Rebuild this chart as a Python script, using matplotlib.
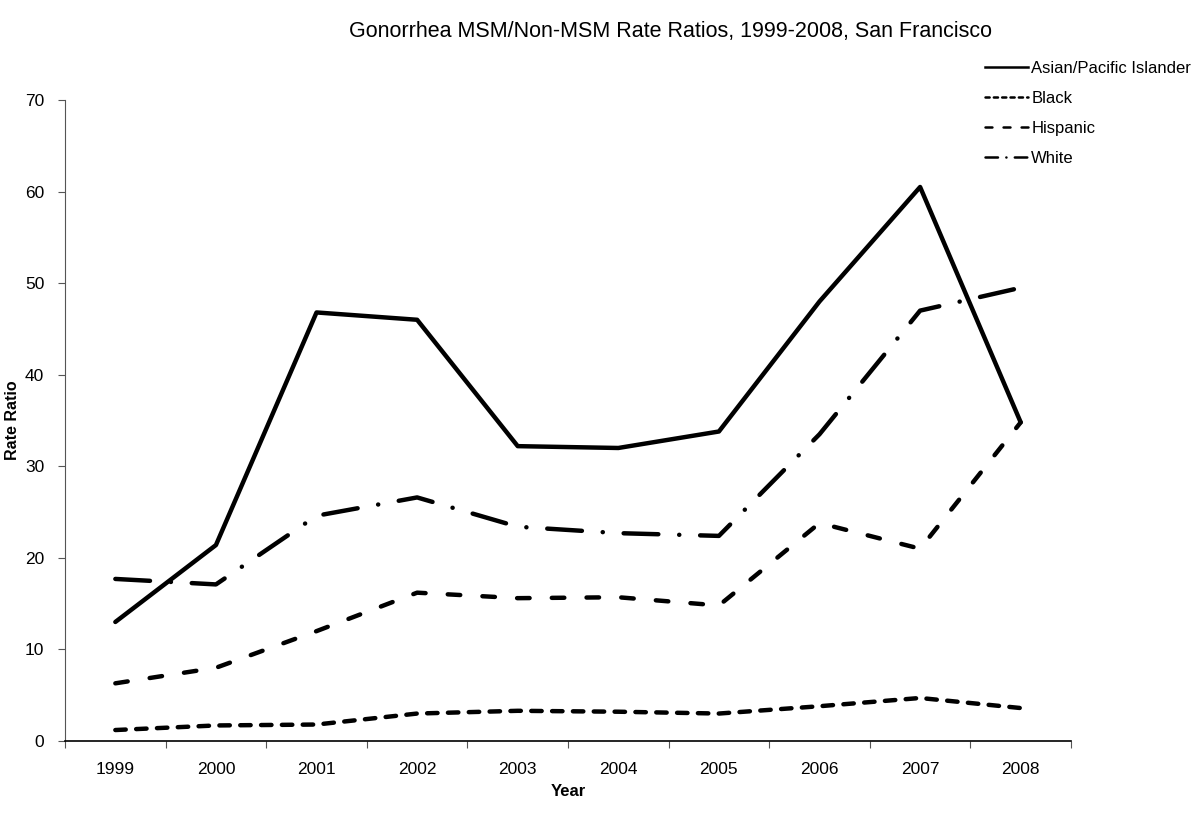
import matplotlib.pyplot as plt
from matplotlib.lines import Line2D

plt.rcParams['font.family'] = ['Liberation Sans', 'DejaVu Sans']
plt.rcParams['lines.scale_dashes'] = False

years = ["1999", "2000", "2001", "2002", "2003", "2004", "2005", "2006", "2007", "2008"]
asian = [13.0, 21.4, 46.8, 46.0, 32.2, 32.0, 33.8, 48.0, 60.5, 34.8]
black = [1.2, 1.7, 1.8, 3.0, 3.3, 3.2, 3.0, 3.8, 4.7, 3.6]
hispanic = [6.3, 8.0, 12.0, 16.2, 15.6, 15.7, 14.8, 23.8, 21.0, 34.8]
white = [17.7, 17.1, 24.6, 26.6, 23.4, 22.7, 22.4, 33.5, 47.0, 49.5]

labels = ["Asian/Pacific Islander", "Black", "Hispanic", "White"]
series = [asian, black, hispanic, white]
styles = [None, (0, (7.5, 7.5)), (0, (9, 16)), (0, (25, 15, 0.1, 15))]
legend_styles = ["-", (0, (3, 3)), (0, (5, 8)), (0, (9, 6, 0.1, 6))]

fig = plt.figure(figsize=(12, 8.17), dpi=100)
ax = fig.add_axes([0.0542, 0.093, 0.8383, 0.7846])

x = list(range(len(years)))
for vals, ls in zip(series, styles):
    line, = ax.plot(x, vals, color="black", lw=3.2, solid_capstyle="round",
                    dash_capstyle="round", solid_joinstyle="round")
    if ls is not None:
        line.set_linestyle(ls)

ax.set_xlim(-0.5, len(years) - 0.5)
ax.set_ylim(0, 70)
ax.set_yticks(range(0, 71, 10))
ax.set_xticks([i - 0.5 for i in range(len(years) + 1)])
ax.set_xticklabels([])
ax.set_xticks(x, minor=True)
ax.set_xticklabels(years, minor=True)
ax.tick_params(axis="x", which="minor", length=0, pad=15, labelsize=12.5)
ax.tick_params(axis="x", which="major", direction="out", length=5, width=0.8, color="#555555")
ax.tick_params(axis="y", direction="out", length=5, width=0.8, color="#555555", labelsize=12.5, pad=10)
for side in ["top", "right"]:
    ax.spines[side].set_visible(False)
ax.spines["left"].set_color("#555555")
ax.spines["left"].set_linewidth(0.8)
ax.spines["bottom"].set_color("black")
ax.spines["bottom"].set_linewidth(1.2)

ax.set_xlabel("Year", fontsize=12, fontweight="bold", labelpad=5)
fig.text(13 / 1200, 0.486, "Rate Ratio", rotation=90, ha="center", va="center",
         fontsize=11.5, fontweight="bold")
fig.text(0.559, 0.961, "Gonorrhea MSM/Non-MSM Rate Ratios, 1999-2008, San Francisco",
         ha="center", va="center", fontsize=15.5)

handles = [Line2D([], [], color="black", lw=1.8, linestyle=ls, dash_capstyle="round")
           for ls in legend_styles]
fig.legend(handles, labels, loc="upper left", bbox_to_anchor=(0.815, 0.934),
           frameon=False, fontsize=12, handlelength=2.6, handletextpad=0.2,
           labelspacing=0.9, borderaxespad=0)

fig.savefig("out.png", dpi=100)
